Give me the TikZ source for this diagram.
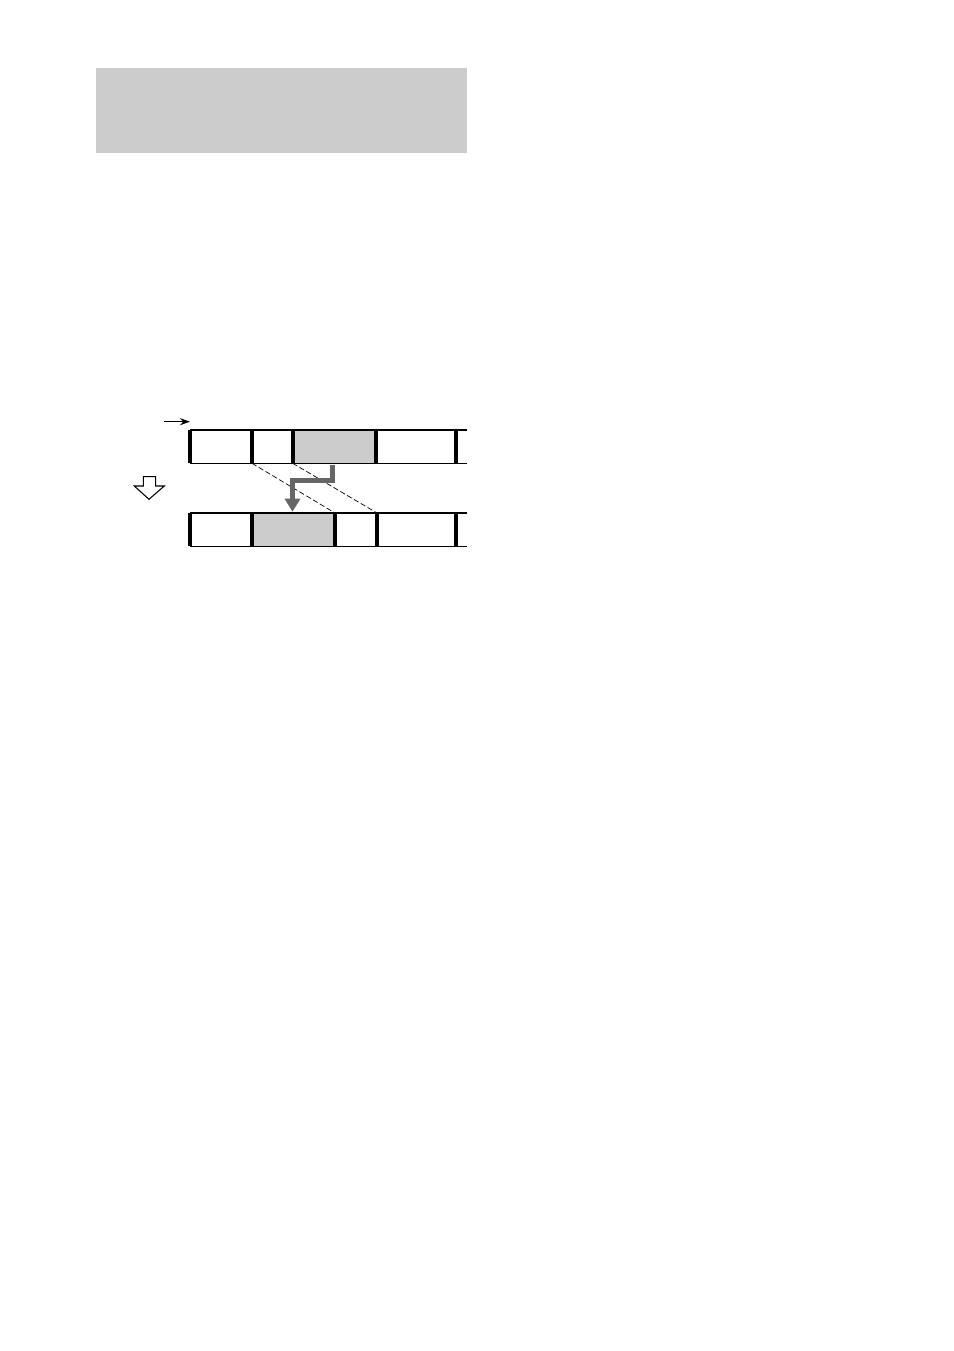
\documentclass[tikz,border=0pt]{standalone}
\usepackage{xcolor}
\usetikzlibrary{arrows, arrows.meta}
\usetikzlibrary{calc}
\definecolor{boxgray}{HTML}{CCCCCC}
\definecolor{movegray}{HTML}{666666}
\tikzset{
  tape/.style={line width=0.6pt},
  bar/.style={line width=0.8mm},
  guide/.style={dashed, line width=0.4pt, dash pattern=on 3pt off 1.5pt},
  move/.style={movegray, line width=1mm, -{Triangle[length=2.6mm, width=3mm]}}
}
\begin{document}
\begin{tikzpicture}[x=0.2mm,y=-0.2mm]
      \useasboundingbox (0,0) rectangle (954,1351);
      \fill[boxgray] (96,68) rectangle (467,153);

      % top tape
      \foreach \x [count=\i] in {190,252,292.7,376,456} {
        \coordinate (ta\i) at (\x,430);
        \coordinate (tb\i) at (\x,463.3);
      }
      \fill[boxgray] (ta3) rectangle (tb4);
      \draw[tape] (ta1) -- (467,430);
      \draw[tape] (tb1) -- (467,463.3);
      \foreach \i in {1,...,5} {
        \draw[bar] (ta\i) -- (tb\i);
      }

      % bottom tape
      \foreach \x [count=\i] in {190,252,335,377,456} {
        \coordinate (ba\i) at (\x,513);
        \coordinate (bb\i) at (\x,546.3);
      }
      \fill[boxgray] (ba2) rectangle (bb3);
      \draw[tape] (ba1) -- (467,513);
      \draw[tape] (bb1) -- (467,546.3);
      \foreach \i in {1,...,5} {
        \draw[bar] (ba\i) -- (bb\i);
      }

      \draw[guide] (tb2) -- (ba3);
      \draw[guide] (tb3) -- (ba4);

      \coordinate (from) at (332.5,465);
      \coordinate (to) at (292.5,511.7);
      \draw[move] (from) -- (332.5,480.5) -- (292.5,480.5) -- (to);

      % direction
      \coordinate (dir) at (164,421.7);
      \draw[line width=0.6pt, -{Stealth[length=2mm, width=1.4mm]}] (dir) -- (190,421.7);

      % hollow arrow
      \draw[line width=0.6pt, fill=white] (143.3,476.7) -- (155.7,476.7) -- (155.7,486) -- (164.3,486)
        -- (149,499.3) -- (134.3,486) -- (143.3,486) -- cycle;


    \end{tikzpicture}
\end{document}
